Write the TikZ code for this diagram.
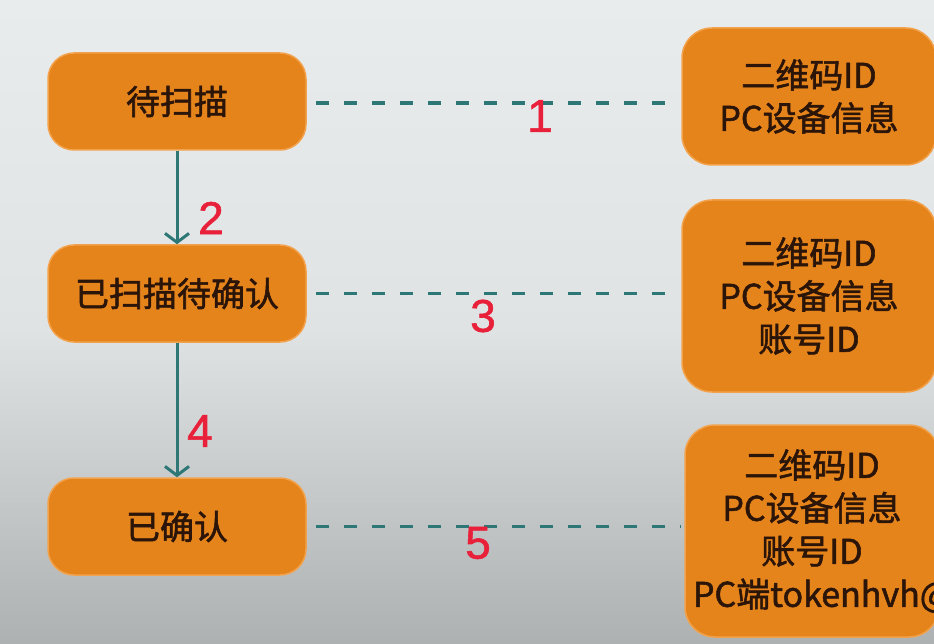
\documentclass[tikz,border=0pt]{standalone}
\usepackage{fontspec}
\setmainfont{Noto Sans CJK SC}
\newfontfamily\cjkmed{Noto Sans CJK SC}[FakeBold=1.6]
\newfontfamily\numfont{Liberation Sans}[FakeBold=1.2]
\usetikzlibrary{arrows.meta}
\definecolor{boxfill}{HTML}{E6841C}
\definecolor{boxedge}{HTML}{F2A24C}
\definecolor{boxtext}{HTML}{2B1508}
\definecolor{teal}{HTML}{2E7777}
\definecolor{numred}{HTML}{E8203A}
\definecolor{bgtop}{HTML}{E9ECEC}
\definecolor{bgmid}{HTML}{E0E3E3}
\definecolor{bgbot}{HTML}{AEB1B1}
\tikzset{
  statebox/.style={draw=boxedge, line width=1.5pt, fill=boxfill, rounded corners=26pt,
    text=boxtext, font=\cjkmed\fontsize{34}{43}\selectfont, align=center, inner sep=0pt,
    minimum width=258pt, minimum height=97pt},
  infobox/.style={draw=boxedge, line width=1.5pt, fill=boxfill, rounded corners=30pt,
    text=boxtext, font=\cjkmed\fontsize{34}{43}\selectfont, align=center, inner sep=0pt,
    minimum width=254pt},
  flowarrow/.style={draw=teal, line width=3pt, -{Straight Barb[length=9pt,width=24pt,line width=3pt]}},
  dashlink/.style={draw=teal, line width=3.5pt, dash pattern=on 13pt off 15pt},
  numlabel/.style={text=numred, font=\numfont\fontsize{46}{46}\selectfont, inner sep=0pt}
}
\begin{document}
\begin{tikzpicture}[x=1pt,y=-1pt]
\useasboundingbox (0,0) rectangle (934,644);
\clip (0,0) rectangle (934,644);
\shade[top color=bgtop, bottom color=bgmid] (0,0) rectangle (934,330);
\shade[top color=bgmid, bottom color=bgbot] (0,330) rectangle (934,644);

% left state boxes
\node[statebox] (b1) at (177,101.5) {待扫描};
\node[statebox] (b2) at (177,293.5) {已扫描待确认};
\node[statebox] (b3) at (177,526.5) {已确认};

% right info boxes
\node[infobox, minimum height=137pt] (r1) at (809,96.5) {二维码ID\\PC设备信息};
\node[infobox, minimum height=192pt] (r2) at (809,296) {二维码ID\\PC设备信息\\账号ID};
\node[infobox, minimum height=212pt, text width=238pt, inner xsep=8pt] (r3) at (812,531) {二维码ID\\PC设备信息\\账号ID\\PC端tokenhvh@};

% flow arrows
\draw[flowarrow] (b1.south) -- (b2.north);
\draw[flowarrow] (b2.south) -- (b3.north);

% dashed links
\draw[dashlink] ([xshift=9pt]b1.east |- 0,103) -- ([xshift=-3pt]r1.west |- 0,103);
\draw[dashlink] ([xshift=9pt]b2.east) -- ([xshift=-3pt]r2.west |- b2.east);
\draw[dashlink] ([xshift=9pt]b3.east) -- ([xshift=-3pt]r3.west |- b3.east);

% number labels
\node[numlabel] (n1) at (540,116) {1};
\node[numlabel] (n2) at (211,218) {2};
\node[numlabel] (n3) at (483,316) {3};
\node[numlabel] (n4) at (200,431) {4};
\node[numlabel] (n5) at (478,543) {5};
\end{tikzpicture}
\end{document}
